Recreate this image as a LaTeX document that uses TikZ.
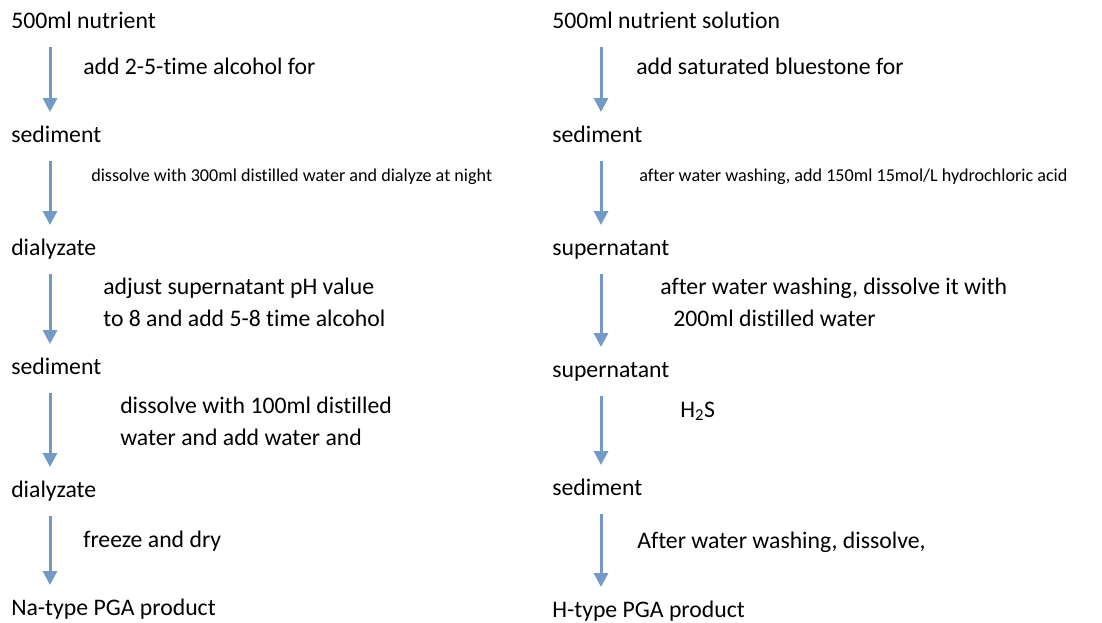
\documentclass[tikz,border=0pt]{standalone}
\usepackage{fontspec}
\setmainfont{Carlito}[Ligatures=NoCommon]
\usepackage{tikz}
\usetikzlibrary{arrows.meta}

\definecolor{flowblue}{RGB}{114,154,198}

\begin{document}
\begin{tikzpicture}[x=0.75pt,y=-0.75pt,
    stage/.style={anchor=base west,inner sep=0pt,font=\fontsize{17.8}{24}\selectfont},
    note/.style={anchor=base west,inner sep=0pt,align=left,font=\fontsize{17.8}{24}\selectfont},
    smallnote/.style={anchor=base west,inner sep=0pt,font=\fontsize{13.6}{16}\selectfont},
    flow/.style={draw=flowblue,line width=2.25pt,-{Triangle[length=10.5pt,width=10.5pt]},
        shorten <=14.25pt,shorten >=22.5pt}]
    \useasboundingbox (0,0) rectangle (1102,622);
    \coordinate (ax) at (50,0);
    \coordinate (bx) at (601,0);

    % Na-type route
    \node[stage] (na1) at (11,28)  {500ml nutrient};
    \node[stage] (na2) at (11,142) {sediment};
    \node[stage] (na3) at (11,255) {dialyzate};
    \node[stage] (na4) at (11,374) {sediment};
    \node[stage] (na5) at (11,497) {dialyzate};
    \node[stage] (na6) at (11,615) {Na-type PGA product};

    \node[note] at (83,74) {add 2-5-time alcohol for};
    \node[smallnote] at (91,181) {dissolve with 300ml distilled water and dialyze at night};
    % base of a two-line note is its last line
    \node[note] at (103,326) {adjust supernatant pH value\\to 8 and add 5-8 time alcohol};
    \node[note] at (120,445) {dissolve with 100ml distilled\\water and add water and};
    \node[note] at (83,547) {freeze and dry};

    \draw[flow] (na1.base -| ax) -- (na2.base -| ax);
    \draw[flow] (na2.base -| ax) -- (na3.base -| ax);
    \draw[flow] (na3.base -| ax) -- (na4.base -| ax);
    \draw[flow] (na4.base -| ax) -- (na5.base -| ax);
    \draw[flow] (na5.base -| ax) -- (na6.base -| ax);

    % H-type route
    \node[stage] (h1) at (552,28)  {500ml nutrient solution};
    \node[stage] (h2) at (552,142) {sediment};
    \node[stage] (h3) at (552,255) {supernatant};
    \node[stage] (h4) at (552,377) {supernatant};
    \node[stage] (h5) at (552,495) {sediment};
    \node[stage] (h6) at (552,617) {H-type PGA product};

    \node[note] at (636,74) {add saturated bluestone for};
    \node[smallnote] at (639,181) {after water washing, add 150ml 15mol/L hydrochloric acid};
    \node[note] at (660,326) {after water washing, dissolve it with\\\hspace*{9.75pt}200ml distilled water};
    \node[note] at (680,417) {H\textsubscript{2}S};
    \node[note] at (637,548) {After water washing, dissolve,};

    \draw[flow] (h1.base -| bx) -- (h2.base -| bx);
    \draw[flow] (h2.base -| bx) -- (h3.base -| bx);
    \draw[flow] (h3.base -| bx) -- (h4.base -| bx);
    \draw[flow] (h4.base -| bx) -- (h5.base -| bx);
    \draw[flow] (h5.base -| bx) -- (h6.base -| bx);
\end{tikzpicture}
\end{document}
